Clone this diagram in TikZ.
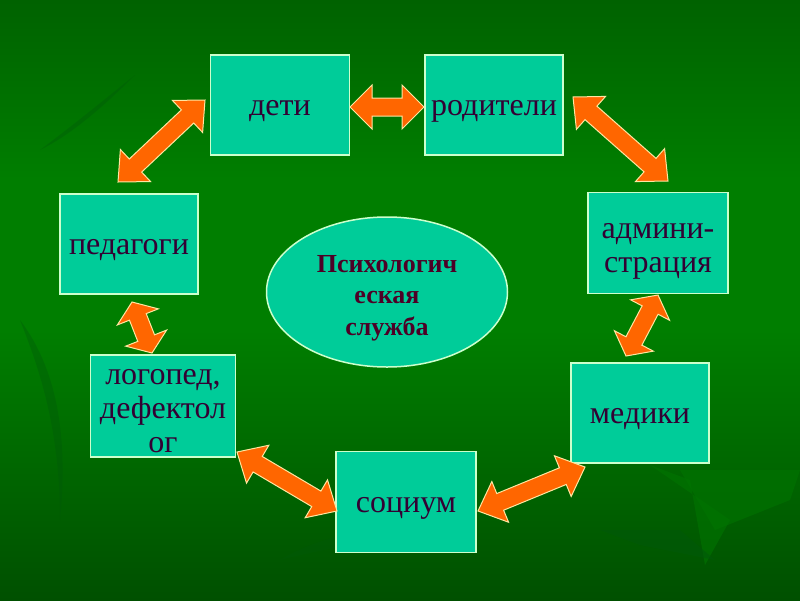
\documentclass[tikz,border=0pt]{standalone}
\usepackage{fontspec}
\setmainfont{Liberation Serif}
\usetikzlibrary{calc,shapes.geometric}
\definecolor{bgtop}{RGB}{0,98,0}
\definecolor{bgmid}{RGB}{0,126,0}
\definecolor{bgbot}{RGB}{0,80,0}
\definecolor{leaf}{RGB}{0,116,0}
\definecolor{leafdark}{RGB}{0,88,10}
\definecolor{boxfill}{RGB}{0,204,153}
\definecolor{boxline}{RGB}{204,255,204}
\definecolor{txt}{RGB}{51,0,51}
\definecolor{etxt}{RGB}{77,0,38}
\definecolor{arrfill}{RGB}{255,102,0}
\definecolor{arrline}{RGB}{255,230,160}
\newcommand\dblarr[3]{%
 \path ($(#1)!#3pt!(#2)$) coordinate (pa) ($(#2)!#3pt!(#1)$) coordinate (pb);
 \draw[arrow shape] (#1) -- ($(pa)!22pt!90:(#2)$) -- ($(pa)!9pt!90:(#2)$)
   -- ($(pb)!9pt!-90:(#1)$) -- ($(pb)!22pt!-90:(#1)$) -- (#2)
   -- ($(pb)!22pt!90:(#1)$) -- ($(pb)!9pt!90:(#1)$)
   -- ($(pa)!9pt!-90:(#2)$) -- ($(pa)!22pt!-90:(#2)$) -- cycle;
}
\begin{document}
\begin{tikzpicture}[x=1pt,y=-1pt,
  box/.style={draw=boxline, line width=1.5pt, fill=boxfill, inner sep=0pt,
    minimum width=139pt, minimum height=100pt},
  lbl/.style={text=txt, align=center, inner sep=0pt, yshift=-6pt,
    font=\fontsize{32}{34}\selectfont},
  elbl/.style={text=etxt, align=center, inner sep=0pt, yshift=-6pt,
    font=\bfseries\fontsize{26}{31.5}\selectfont},
  arrow shape/.style={fill=arrfill, draw=arrline, line width=1pt, line join=miter},
  leafshape/.style={fill=leaf, opacity=0.6}]
\useasboundingbox (0,0) rectangle (800,600);
\shade[top color=bgtop, bottom color=bgmid] (0,0) rectangle (800,180);
\fill[bgmid] (0,180) rectangle (800,330);
\shade[top color=bgmid, bottom color=bgbot] (0,330) rectangle (800,600);
% faint leaves
\fill[leafshape] (650,465) -- (730,520) -- (705,565) -- (690,480) -- cycle;
\fill[leafshape] (680,470) -- (800,470) -- (790,500) -- (715,530) -- cycle;
\fill[leafdark, opacity=0.5] (600,530) -- (680,530) -- (715,560) -- (640,545) -- cycle;
\fill[leafdark, opacity=0.35] (40,150) .. controls (80,120) and (110,95) .. (135,75) .. controls (100,110) and (70,135) .. (40,150) -- cycle;
\fill[leafdark, opacity=0.35] (20,320) .. controls (50,360) and (70,420) .. (60,520) .. controls (60,430) and (40,370) .. (20,320) -- cycle;
\fill[leafdark, opacity=0.35] (280,560) .. controls (330,530) and (400,520) .. (460,540) .. controls (400,535) and (340,545) .. (280,560) -- cycle;

\node[box, label={[lbl]center:дети}] (deti) at (280,105) {};
\node[box, minimum width=138pt, label={[lbl]center:родители}] (rod) at (494,105) {};
\node[box, minimum width=140pt, minimum height=101pt,
  label={[lbl, yshift=-2pt]center:админи-\\страция}] (adm) at (658,243) {};
\node[box, minimum width=138pt, label={[lbl]center:медики}] (med) at (640,413) {};
\node[box, minimum width=140pt, minimum height=101pt, label={[lbl]center:социум}] (soc) at (406,502) {};
\node[box, minimum width=145pt, minimum height=102pt,
  label={[lbl, yshift=1pt]center:логопед,\\дефектол\\ог}] (log) at (163,406) {};
\node[box, minimum width=138pt, label={[lbl]center:педагоги}] (ped) at (129,244) {};
\node[ellipse, draw=boxline, line width=1.5pt, fill=boxfill, minimum width=241pt,
  minimum height=150pt, inner sep=0pt,
  label={[elbl]center:Психологич\\еская\\служба}] (psy) at (387,292) {};

\coordinate (a1) at (350,107); \coordinate (b1) at (424,107);
\coordinate (a2) at (573,97);  \coordinate (b2) at (668,181);
\coordinate (a3) at (658,295); \coordinate (b3) at (626,356);
\coordinate (a4) at (585,467); \coordinate (b4) at (478,511);
\coordinate (a5) at (337,511); \coordinate (b5) at (237,452);
\coordinate (a6) at (152,353); \coordinate (b6) at (132,302);
\coordinate (a7) at (118,182); \coordinate (b7) at (205,100);
\dblarr{a1}{b1}{22}
\dblarr{a2}{b2}{24}
\dblarr{a3}{b3}{17}
\dblarr{a4}{b4}{24}
\dblarr{a5}{b5}{24}
\dblarr{a6}{b6}{16}
\dblarr{a7}{b7}{24}
\end{tikzpicture}
\end{document}
